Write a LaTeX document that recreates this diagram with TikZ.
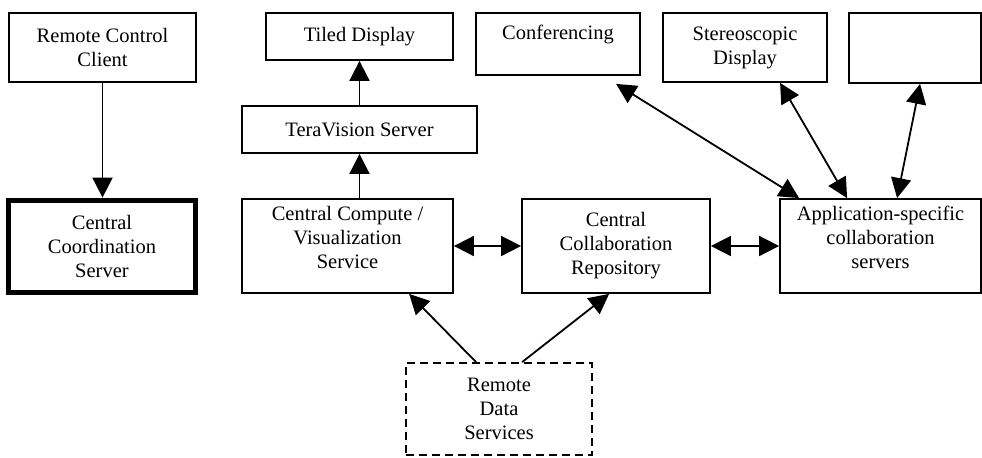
\documentclass[tikz,border=0pt]{standalone}
\usepackage{fontspec}
\setmainfont{Liberation Serif}
\usetikzlibrary{arrows.meta}

\tikzset{
  box/.style={draw, line width=0.9pt, inner sep=0pt, align=center,
    font=\fontsize{10.25}{12}\selectfont},
  thickbox/.style={box, line width=2.9pt},
  dashbox/.style={box, dash pattern=on 4pt off 2.5pt},
  onearrow/.style={line width=0.9pt, -{Triangle[length=10pt,width=10pt]}},
  twoarrow/.style={line width=0.9pt, {Triangle[length=10pt,width=10pt]}-{Triangle[length=10pt,width=10pt]}}
}

\begin{document}
\begin{tikzpicture}[x=0.5pt, y=-0.5pt]
  %%%%% FRAME %%%%%
  \useasboundingbox (0,0) rectangle (982,457);

  %%%%% BOXES %%%%%
  \node[box, minimum width=93.5pt, minimum height=34.5pt] (rcc) at (102.5, 47.5) {Remote Control\\Client};
  \node[thickbox, minimum width=93.5pt, minimum height=46pt] (ccs) at (102, 246.5) {Central\\Coordination\\Server};

  \node[box, minimum width=93.5pt, minimum height=23.5pt] (tiled) at (359.5, 36.5) {Tiled Display};
  \node[box, minimum width=117.5pt, minimum height=23.5pt] (tera) at (359.5, 129.5) {TeraVision Server};
  \node[box, minimum width=105.5pt, minimum height=47pt, text depth=9pt] (compute) at (347.5, 246) {Central Compute /\\Visualization\\Service};
  \node[box, minimum width=94pt, minimum height=47pt] (collab) at (616, 246) {Central\\Collaboration\\Repository};
  \node[box, minimum width=100.5pt, minimum height=47pt, text depth=9pt] (app) at (880.5, 246) {Application-specific\\collaboration\\servers};

  \node[box, minimum width=82pt, minimum height=31pt] (conf) at (558, 44) {Conferencing\\\mbox{}};
  \node[box, minimum width=82pt, minimum height=34.5pt] (stereo) at (745, 47.5) {Stereoscopic\\Display};
  \node[box, minimum width=66pt, minimum height=35pt] (blank) at (915, 48) {};

  \node[dashbox, minimum width=93pt, minimum height=46pt] (rds) at (499, 409) {Remote\\Data\\Services};

  %%%%% CONNECTORS %%%%%
  \draw[onearrow] (rcc.south) -- (rcc.south |- ccs.north);
  \draw[onearrow] (tera.north) -- (tiled.south);
  \draw[onearrow] (compute.north -| tera.south) -- (tera.south);

  \draw[twoarrow] (compute.east) -- (collab.west);
  \draw[twoarrow] (collab.east) -- (app.west);

  \draw[onearrow] ([xshift=35.5pt]rds.north west) -- ([xshift=84pt]compute.south west);
  \draw[onearrow] ([xshift=58.5pt]rds.north west) -- ([xshift=44pt]collab.south west);

  \draw[twoarrow] ([xshift=70.5pt, yshift=-4pt]conf.south west) -- ([xshift=10pt]app.north west);
  \draw[twoarrow] ([xshift=59pt]stereo.south west) -- ([xshift=34pt]app.north west);
  \draw[twoarrow] ([xshift=36pt]blank.south west) -- ([xshift=59pt]app.north west);
\end{tikzpicture}
\end{document}
